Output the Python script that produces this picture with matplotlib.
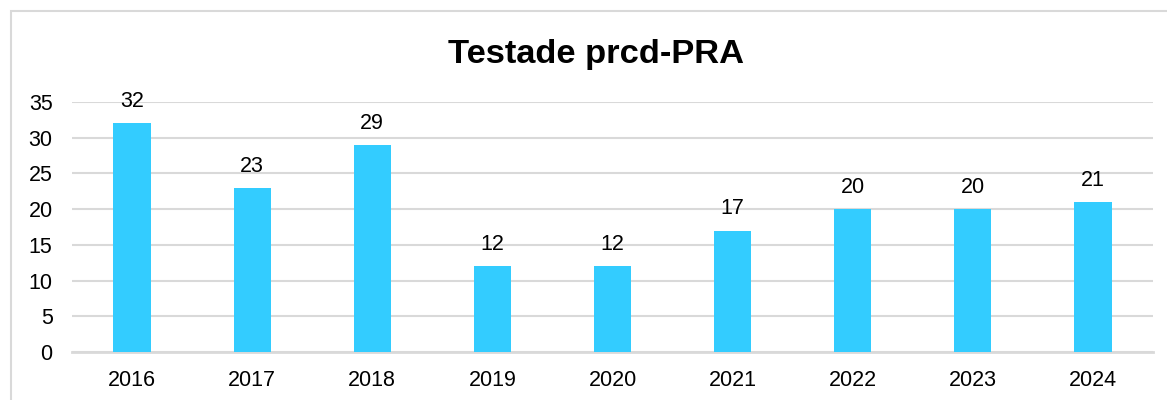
import matplotlib
matplotlib.use("Agg")
import matplotlib.pyplot as plt
from matplotlib.patches import Rectangle

years = ["2016", "2017", "2018", "2019", "2020", "2021", "2022", "2023", "2024"]
values = [32, 23, 29, 12, 12, 17, 20, 20, 21]
title = "Testade prcd-PRA"

plt.rcParams['font.family'] = ['Liberation Sans', 'DejaVu Sans']

W, H = 1167, 400
fig = plt.figure(figsize=(W / 100, H / 100), dpi=100)
fig.patch.set_facecolor("white")

# outer chart border (cropped on right and bottom)
fig.patches.append(Rectangle((11 / W, -0.1), 1.2, 1 - 11 / H + 0.1, transform=fig.transFigure,
                             fill=False, edgecolor="#d9d9d9", linewidth=1.5))

ax = fig.add_axes([72 / W, 1 - 352 / H, (1153 - 72) / W, (352 - 102) / H])
x = range(len(years))
bars = ax.bar(x, values, width=0.31, color="#33CCFF", zorder=3)
ax.set_xlim(-0.5, len(years) - 0.5)
ax.set_ylim(0, 35)
ax.set_yticks(range(0, 36, 5))
ax.set_xticks(list(x))
ax.set_xticklabels(years)
ax.grid(axis="y", color="#d9d9d9", linewidth=1.5, zorder=0)
ax.set_axisbelow(True)
for s in ["top", "right", "left"]:
    ax.spines[s].set_visible(False)
ax.spines["bottom"].set_color("#d9d9d9")
ax.spines["bottom"].set_linewidth(2)
ax.tick_params(axis="both", length=0, labelsize=15.5, colors="black")
ax.tick_params(axis="x", pad=13)
ax.tick_params(axis="y", pad=14)

for xi, v in zip(x, values):
    ax.annotate(str(v), (xi, v), xytext=(0, 8), textcoords="offset points",
                ha="center", va="bottom", fontsize=15.5, color="black")

fig.text(596 / W, 1 - 62.7 / H, title, ha="center", va="baseline",
         fontsize=24.8, fontweight="bold", color="black")

fig.savefig("out.png", dpi=100, facecolor="white")
